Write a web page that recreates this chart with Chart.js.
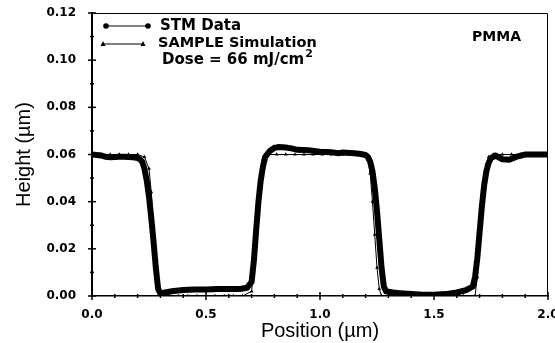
<!DOCTYPE html>
<html>
<head>
<meta charset="utf-8">
<script src="https://cdn.jsdelivr.net/npm/chart.js@4.4.0/dist/chart.umd.min.js"></script>
<style>
  html, body { margin: 0; padding: 0; background: #fff; }
  #wrap { width: 555px; height: 343px; }
</style>
</head>
<body>
<div id="wrap"><canvas id="profileChart"></canvas></div>
<script>
// STM measured profile (position um, height um)
const stmX = [0.00, 0.02, 0.04, 0.06, 0.08, 0.10, 0.12, 0.14, 0.16, 0.18, 0.20, 0.21, 0.22, 0.23, 0.24, 0.25, 0.26, 0.27, 0.28, 0.29,
  0.30, 0.32, 0.35, 0.40, 0.45, 0.50, 0.55, 0.60, 0.65, 0.68, 0.70, 0.71, 0.72, 0.73, 0.74, 0.75, 0.76, 0.78, 0.80, 0.82,
  0.85, 0.88, 0.90, 0.95, 1.00, 1.05, 1.08, 1.10, 1.15, 1.18, 1.20, 1.21, 1.22, 1.23, 1.24, 1.25, 1.26, 1.27, 1.28, 1.29,
  1.32, 1.35, 1.40, 1.45, 1.50, 1.55, 1.60, 1.64, 1.67, 1.68, 1.69, 1.70, 1.71, 1.72, 1.73, 1.74, 1.75, 1.77, 1.80, 1.83,
  1.86, 1.90, 1.95, 2.00];
const stmY = [0.0600, 0.0598, 0.0596, 0.0590, 0.0588, 0.0589, 0.0590, 0.0590, 0.0589, 0.0588, 0.0585, 0.0580, 0.0570, 0.0540, 0.0490, 0.0420, 0.0330, 0.0230, 0.0120, 0.0030,
  0.0010, 0.0015, 0.0020, 0.0025, 0.0028, 0.0028, 0.0030, 0.0030, 0.0030, 0.0035, 0.0060, 0.0150, 0.0280, 0.0400, 0.0490, 0.0550, 0.0590, 0.0615, 0.0628, 0.0632,
  0.0630, 0.0625, 0.0620, 0.0618, 0.0612, 0.0610, 0.0605, 0.0608, 0.0605, 0.0602, 0.0598, 0.0590, 0.0570, 0.0530, 0.0460, 0.0360, 0.0240, 0.0120, 0.0040, 0.0020,
  0.0015, 0.0012, 0.0008, 0.0005, 0.0005, 0.0008, 0.0015, 0.0025, 0.0040, 0.0080, 0.0160, 0.0270, 0.0380, 0.0470, 0.0530, 0.0565, 0.0585, 0.0595, 0.0580, 0.0578,
  0.0590, 0.0600, 0.0600, 0.0600];

// SAMPLE simulation profile
const simX = [0.00, 0.04, 0.08, 0.12, 0.16, 0.20, 0.23, 0.25, 0.26, 0.27, 0.28, 0.29, 0.30, 0.34, 0.38, 0.42, 0.46, 0.50, 0.54, 0.58,
  0.62, 0.66, 0.70, 0.71, 0.72, 0.73, 0.74, 0.75, 0.77, 0.81, 0.85, 0.89, 0.93, 0.97, 1.01, 1.05, 1.09, 1.13, 1.17, 1.20,
  1.21, 1.22, 1.23, 1.24, 1.25, 1.26, 1.27, 1.31, 1.35, 1.39, 1.43, 1.47, 1.51, 1.55, 1.59, 1.63, 1.68, 1.69, 1.70, 1.71,
  1.72, 1.73, 1.74, 1.76, 1.80, 1.84, 1.88, 1.92, 1.96, 2.00];
const simY = [0.060, 0.060, 0.060, 0.060, 0.060, 0.060, 0.059, 0.054, 0.044, 0.030, 0.014, 0.003, 0.000, 0.000, 0.000, 0.000, 0.000, 0.000, 0.000, 0.000,
  0.000, 0.000, 0.002, 0.012, 0.028, 0.042, 0.052, 0.058, 0.060, 0.060, 0.060, 0.060, 0.060, 0.060, 0.060, 0.060, 0.060, 0.060, 0.060, 0.060,
  0.058, 0.052, 0.040, 0.026, 0.012, 0.003, 0.000, 0.000, 0.000, 0.000, 0.000, 0.000, 0.000, 0.000, 0.000, 0.000, 0.000, 0.008, 0.022, 0.036,
  0.048, 0.056, 0.059, 0.060, 0.060, 0.060, 0.060, 0.060, 0.060, 0.060];

const xTickLabels = ["0.0", "0.5", "1.0", "1.5", "2.0"];
const yTickLabels = ["0.00", "0.02", "0.04", "0.06", "0.08", "0.10", "0.12"];

const tickFont = { family: "DejaVu Sans", size: 12, weight: "bold" };
const titleFont = { family: "Liberation Sans", size: 20 };

// draw crossing major ticks, small minor ticks, top/right frame and the in-plot notes
const decorPlugin = {
  id: "decor",
  afterDraw(chart) {
    const ctx = chart.ctx;
    const area = chart.chartArea;
    const xs = chart.scales.x;
    const ys = chart.scales.y;
    ctx.save();
    ctx.strokeStyle = "#000";
    ctx.fillStyle = "#000";

    // frame top and right
    ctx.lineWidth = 1;
    ctx.beginPath();
    ctx.moveTo(area.left, area.top + 0.5);
    ctx.lineTo(area.right - 0.5, area.top + 0.5);
    ctx.lineTo(area.right - 0.5, area.bottom);
    ctx.stroke();

    ctx.lineWidth = 1.5;
    ys.ticks.forEach((t) => {
      const py = ys.getPixelForValue(t.value);
      const major = Math.round(t.value * 100) % 2 === 0;
      ctx.beginPath();
      if (major) {
        ctx.moveTo(area.left - 4, py);
        ctx.lineTo(area.left + 4, py);
      } else {
        ctx.moveTo(area.left - 2, py);
        ctx.lineTo(area.left + 2, py);
      }
      ctx.stroke();
    });
    xs.ticks.forEach((t) => {
      const px = xs.getPixelForValue(t.value);
      const major = Math.round(t.value * 10) % 5 === 0;
      ctx.beginPath();
      if (major) {
        ctx.moveTo(px, area.bottom - 4);
        ctx.lineTo(px, area.bottom + 4);
      } else {
        ctx.moveTo(px, area.bottom - 2);
        ctx.lineTo(px, area.bottom + 2);
      }
      ctx.stroke();
    });

    // legend samples
    const l = area.left;
    const t = area.top;
    ctx.lineWidth = 1;
    ctx.beginPath();
    ctx.moveTo(l + 14, t + 13);
    ctx.lineTo(l + 56, t + 13);
    ctx.moveTo(l + 11, t + 31);
    ctx.lineTo(l + 51, t + 31);
    ctx.stroke();
    [l + 14, l + 56].forEach((cx) => {
      ctx.beginPath();
      ctx.arc(cx, t + 13, 2.8, 0, Math.PI * 2);
      ctx.fill();
    });
    [l + 11, l + 51].forEach((cx) => {
      ctx.beginPath();
      ctx.moveTo(cx, t + 28);
      ctx.lineTo(cx + 2.5, t + 33);
      ctx.lineTo(cx - 2.5, t + 33);
      ctx.closePath();
      ctx.fill();
    });

    ctx.textBaseline = "middle";
    ctx.textAlign = "left";
    ctx.font = "bold 15px 'DejaVu Sans'";
    ctx.fillText("STM Data", l + 68, t + 13);
    ctx.font = "bold 14.5px 'DejaVu Sans'";
    ctx.fillText("SAMPLE Simulation", l + 66, t + 30);
    ctx.font = "bold 15px 'DejaVu Sans'";
    ctx.fillText("Dose = 66 mJ/cm", l + 70, t + 47);
    const w = ctx.measureText("Dose = 66 mJ/cm").width;
    ctx.font = "bold 11px 'DejaVu Sans'";
    ctx.fillText("2", l + 70 + w + 1, t + 41);
    ctx.font = "bold 14px 'DejaVu Sans'";
    ctx.textAlign = "right";
    ctx.fillText("PMMA", area.right - 27, t + 24);
    ctx.restore();
  },
};

const ctx = document.getElementById("profileChart").getContext("2d");
new Chart(ctx, {
  type: "scatter",
  data: {
    datasets: [
      {
        label: "SAMPLE Simulation",
        data: simX.map((x, i) => ({ x: x, y: simY[i] })),
        showLine: true,
        borderColor: "#000",
        backgroundColor: "#000",
        borderWidth: 1,
        pointBorderWidth: 0,
        pointRadius: 2.2,
        pointStyle: "triangle",
        order: 0,
      },
      {
        label: "STM Data",
        data: stmX.map((x, i) => ({ x: x, y: stmY[i] })),
        showLine: true,
        borderColor: "#000",
        backgroundColor: "#000",
        borderWidth: 6,
        pointBorderWidth: 0,
        pointRadius: 2,
        pointStyle: "circle",
        order: 1,
      },
    ],
  },
  options: {
    responsive: true,
    maintainAspectRatio: false,
    animation: false,
    layout: { padding: { top: 13, right: 7, left: 0, bottom: 0 } },
    plugins: {
      legend: { display: false },
      tooltip: { enabled: false },
    },
    scales: {
      x: {
        type: "linear",
        min: 0,
        max: 2,
        afterFit: (scale) => {
          scale.height = 47;
          scale.paddingLeft = 0;
          scale.paddingRight = 0;
        },
        ticks: {
          stepSize: 0.1,
          autoSkip: false,
          maxRotation: 0,
          padding: 4,
          color: "#000",
          font: tickFont,
          callback: (v) => {
            const k = Math.round(v * 10);
            return k % 5 === 0 ? xTickLabels[k / 5] : "";
          },
        },
        grid: { display: false },
        border: { display: true, color: "#000", width: 1.5 },
        title: {
          display: true,
          text: "Position (µm)",
          color: "#000",
          font: titleFont,
          padding: { top: 0, bottom: 0 },
        },
      },
      y: {
        type: "linear",
        min: 0,
        max: 0.12,
        afterFit: (scale) => {
          scale.width = 92;
          scale.paddingTop = 0;
          scale.paddingBottom = 0;
        },
        ticks: {
          stepSize: 0.01,
          autoSkip: false,
          padding: 8,
          color: "#000",
          font: tickFont,
          callback: (v) => {
            const k = Math.round(v * 100);
            return k % 2 === 0 ? yTickLabels[k / 2] : "";
          },
        },
        grid: { display: false },
        border: { display: true, color: "#000", width: 2 },
        title: {
          display: true,
          text: "Height (µm)",
          color: "#000",
          font: titleFont,
          padding: { top: 12, bottom: 0 },
        },
      },
    },
  },
  plugins: [decorPlugin],
});
</script>
</body>
</html>
